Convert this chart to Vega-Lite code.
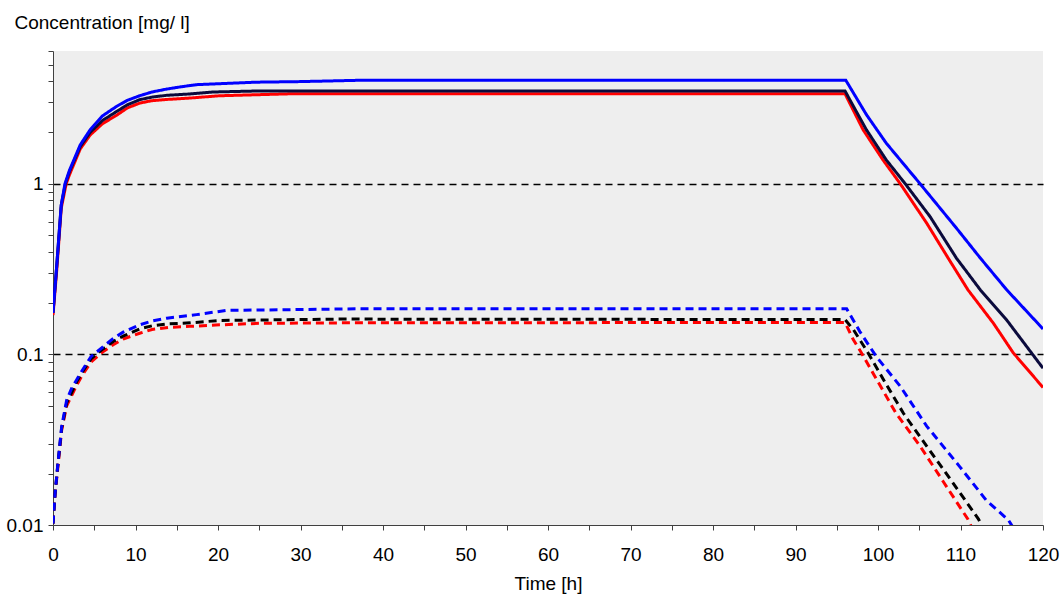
{
  "$schema": "https://vega.github.io/schema/vega-lite/v6.json",
  "autosize": {"type": "none"},
  "padding": {"left": 53, "top": 51, "right": 20, "bottom": 70},
  "width": 990,
  "height": 474,
  "background": "white",
  "config": {
    "view": {"fill": "#eeeeee", "stroke": null},
    "font": "Liberation Sans",
    "axis": {"labelFont": "Liberation Sans", "titleFont": "Liberation Sans", "labelColor": "#000000", "titleColor": "#000000", "titleFontWeight": "normal", "labelFontSize": 19, "titleFontSize": 19, "domainColor": "#404040", "tickColor": "#404040", "domainWidth": 1, "tickWidth": 1}
  },
  "data": {"values": [
    {"t": 0, "c": 0.17, "s": "R"}, {"t": 0.45, "c": 0.31, "s": "R"}, {"t": 1.0, "c": 0.72, "s": "R"}, {"t": 1.6, "c": 1.0, "s": "R"}, {"t": 2, "c": 1.13, "s": "R"}, {"t": 3.3, "c": 1.6, "s": "R"}, {"t": 4.5, "c": 1.93, "s": "R"}, {"t": 6, "c": 2.25, "s": "R"}, {"t": 7.7, "c": 2.52, "s": "R"}, {"t": 9, "c": 2.78, "s": "R"}, {"t": 10.5, "c": 2.97, "s": "R"}, {"t": 12, "c": 3.07, "s": "R"}, {"t": 13.8, "c": 3.12, "s": "R"}, {"t": 16.6, "c": 3.18, "s": "R"}, {"t": 20.2, "c": 3.28, "s": "R"}, {"t": 29, "c": 3.37, "s": "R"}, {"t": 96, "c": 3.37, "s": "R"}, {"t": 98.2, "c": 2.07, "s": "R"}, {"t": 100.6, "c": 1.38, "s": "R"}, {"t": 102.7, "c": 1.0, "s": "R"}, {"t": 105.9, "c": 0.588, "s": "R"}, {"t": 108.5, "c": 0.367, "s": "R"}, {"t": 110.9, "c": 0.239, "s": "R"}, {"t": 114, "c": 0.152, "s": "R"}, {"t": 116.4, "c": 0.102, "s": "R"}, {"t": 120, "c": 0.064, "s": "R"},

    {"t": 0, "c": 0.175, "s": "K"}, {"t": 0.45, "c": 0.33, "s": "K"}, {"t": 1.0, "c": 0.75, "s": "K"}, {"t": 1.5, "c": 1.0, "s": "K"}, {"t": 2, "c": 1.18, "s": "K"}, {"t": 3.3, "c": 1.65, "s": "K"}, {"t": 4.5, "c": 2.0, "s": "K"}, {"t": 6, "c": 2.35, "s": "K"}, {"t": 7.7, "c": 2.65, "s": "K"}, {"t": 9, "c": 2.9, "s": "K"}, {"t": 10.5, "c": 3.11, "s": "K"}, {"t": 12, "c": 3.22, "s": "K"}, {"t": 13.8, "c": 3.3, "s": "K"}, {"t": 16.6, "c": 3.36, "s": "K"}, {"t": 19.4, "c": 3.45, "s": "K"}, {"t": 25, "c": 3.5, "s": "K"}, {"t": 96, "c": 3.5, "s": "K"}, {"t": 98.6, "c": 2.07, "s": "K"}, {"t": 101, "c": 1.38, "s": "K"}, {"t": 103.3, "c": 1.0, "s": "K"}, {"t": 106.3, "c": 0.643, "s": "K"}, {"t": 109.5, "c": 0.367, "s": "K"}, {"t": 112.4, "c": 0.239, "s": "K"}, {"t": 115.6, "c": 0.159, "s": "K"}, {"t": 120, "c": 0.083, "s": "K"},

    {"t": 0, "c": 0.175, "s": "B"}, {"t": 0.45, "c": 0.33, "s": "B"}, {"t": 1.0, "c": 0.75, "s": "B"}, {"t": 1.45, "c": 1.0, "s": "B"}, {"t": 2, "c": 1.2, "s": "B"}, {"t": 3.3, "c": 1.69, "s": "B"}, {"t": 4.5, "c": 2.07, "s": "B"}, {"t": 6, "c": 2.5, "s": "B"}, {"t": 7.7, "c": 2.84, "s": "B"}, {"t": 9, "c": 3.08, "s": "B"}, {"t": 10.5, "c": 3.28, "s": "B"}, {"t": 12, "c": 3.45, "s": "B"}, {"t": 13.8, "c": 3.59, "s": "B"}, {"t": 15.5, "c": 3.7, "s": "B"}, {"t": 17.4, "c": 3.81, "s": "B"}, {"t": 20.2, "c": 3.86, "s": "B"}, {"t": 24.7, "c": 3.94, "s": "B"}, {"t": 30, "c": 3.97, "s": "B"}, {"t": 37, "c": 4.04, "s": "B"}, {"t": 96.1, "c": 4.04, "s": "B"}, {"t": 98.6, "c": 2.54, "s": "B"}, {"t": 101, "c": 1.73, "s": "B"}, {"t": 105.1, "c": 1.0, "s": "B"}, {"t": 109.5, "c": 0.55, "s": "B"}, {"t": 112.4, "c": 0.367, "s": "B"}, {"t": 115.6, "c": 0.239, "s": "B"}, {"t": 120, "c": 0.141, "s": "B"},

    {"t": 0, "c": 0.0102, "s": "Rd"}, {"t": 0.25, "c": 0.015, "s": "Rd"}, {"t": 0.64, "c": 0.023, "s": "Rd"}, {"t": 1.05, "c": 0.036, "s": "Rd"}, {"t": 1.66, "c": 0.05, "s": "Rd"}, {"t": 2.87, "c": 0.066, "s": "Rd"}, {"t": 3.5, "c": 0.075, "s": "Rd"}, {"t": 4.6, "c": 0.09, "s": "Rd"}, {"t": 6.1, "c": 0.104, "s": "Rd"}, {"t": 7.3, "c": 0.114, "s": "Rd"}, {"t": 8.5, "c": 0.123, "s": "Rd"}, {"t": 10.5, "c": 0.133, "s": "Rd"}, {"t": 12, "c": 0.14, "s": "Rd"}, {"t": 14, "c": 0.144, "s": "Rd"}, {"t": 16.6, "c": 0.146, "s": "Rd"}, {"t": 20.2, "c": 0.149, "s": "Rd"}, {"t": 25, "c": 0.152, "s": "Rd"}, {"t": 34.8, "c": 0.153, "s": "Rd"}, {"t": 96, "c": 0.154, "s": "Rd"}, {"t": 97, "c": 0.122, "s": "Rd"}, {"t": 98, "c": 0.102, "s": "Rd"}, {"t": 99.4, "c": 0.0776, "s": "Rd"}, {"t": 102.2, "c": 0.045, "s": "Rd"}, {"t": 105.1, "c": 0.029, "s": "Rd"}, {"t": 107.9, "c": 0.018, "s": "Rd"}, {"t": 110.9, "c": 0.0108, "s": "Rd"}, {"t": 111.3, "c": 0.0098, "s": "Rd"},

    {"t": 0, "c": 0.0102, "s": "Kd"}, {"t": 0.25, "c": 0.0153, "s": "Kd"}, {"t": 0.64, "c": 0.024, "s": "Kd"}, {"t": 1.05, "c": 0.037, "s": "Kd"}, {"t": 1.66, "c": 0.052, "s": "Kd"}, {"t": 2.87, "c": 0.069, "s": "Kd"}, {"t": 3.5, "c": 0.078, "s": "Kd"}, {"t": 4.6, "c": 0.094, "s": "Kd"}, {"t": 6.1, "c": 0.108, "s": "Kd"}, {"t": 7.3, "c": 0.119, "s": "Kd"}, {"t": 8.5, "c": 0.128, "s": "Kd"}, {"t": 10.5, "c": 0.141, "s": "Kd"}, {"t": 12, "c": 0.147, "s": "Kd"}, {"t": 14, "c": 0.151, "s": "Kd"}, {"t": 16.6, "c": 0.153, "s": "Kd"}, {"t": 20.2, "c": 0.158, "s": "Kd"}, {"t": 34.8, "c": 0.161, "s": "Kd"}, {"t": 96, "c": 0.16, "s": "Kd"}, {"t": 97, "c": 0.14, "s": "Kd"}, {"t": 98.8, "c": 0.102, "s": "Kd"}, {"t": 100.6, "c": 0.072, "s": "Kd"}, {"t": 103.1, "c": 0.045, "s": "Kd"}, {"t": 105.9, "c": 0.029, "s": "Kd"}, {"t": 109.1, "c": 0.0176, "s": "Kd"}, {"t": 112.2, "c": 0.0108, "s": "Kd"}, {"t": 112.6, "c": 0.0098, "s": "Kd"},

    {"t": 0, "c": 0.0102, "s": "Bd"}, {"t": 0.25, "c": 0.0153, "s": "Bd"}, {"t": 0.64, "c": 0.024, "s": "Bd"}, {"t": 1.05, "c": 0.0377, "s": "Bd"}, {"t": 1.66, "c": 0.054, "s": "Bd"}, {"t": 2.3, "c": 0.064, "s": "Bd"}, {"t": 2.87, "c": 0.071, "s": "Bd"}, {"t": 3.5, "c": 0.08, "s": "Bd"}, {"t": 4.6, "c": 0.097, "s": "Bd"}, {"t": 6.1, "c": 0.111, "s": "Bd"}, {"t": 7.3, "c": 0.124, "s": "Bd"}, {"t": 8.5, "c": 0.135, "s": "Bd"}, {"t": 10.5, "c": 0.149, "s": "Bd"}, {"t": 12, "c": 0.157, "s": "Bd"}, {"t": 13.8, "c": 0.163, "s": "Bd"}, {"t": 17.4, "c": 0.171, "s": "Bd"}, {"t": 21, "c": 0.181, "s": "Bd"}, {"t": 37, "c": 0.185, "s": "Bd"}, {"t": 96.2, "c": 0.185, "s": "Bd"}, {"t": 97.8, "c": 0.136, "s": "Bd"}, {"t": 99.8, "c": 0.097, "s": "Bd"}, {"t": 102.7, "c": 0.065, "s": "Bd"}, {"t": 105.9, "c": 0.038, "s": "Bd"}, {"t": 109.9, "c": 0.022, "s": "Bd"}, {"t": 113.1, "c": 0.014, "s": "Bd"}, {"t": 115.8, "c": 0.0107, "s": "Bd"}, {"t": 116.3, "c": 0.0098, "s": "Bd"}
  ]},
  "mark": {"type": "line", "strokeWidth": 3, "clip": true, "interpolate": "linear"},
  "encoding": {
    "x": {
      "field": "t", "type": "quantitative",
      "scale": {"domain": [0, 120], "nice": false, "zero": false},
      "axis": {
        "title": "Time [h]",
        "values": [0,5,10,15,20,25,30,35,40,45,50,55,60,65,70,75,80,85,90,95,100,105,110,115,120],
        "labelExpr": "datum.value % 10 == 0 ? datum.label : ''",
        "grid": false, "tickSize": 5, "labelPadding": 15, "titlePadding": 10, "labelFlush": false
      }
    },
    "y": {
      "field": "c", "type": "quantitative",
      "scale": {"type": "log", "domain": [0.01, 6], "nice": false, "zero": false},
      "axis": {
        "title": "Concentration [mg/ l]",
        "titleAngle": 0, "titleAlign": "left", "titleBaseline": "alphabetic",
        "titleX": -39, "titleY": -23,
        "values": [0.01,0.02,0.03,0.04,0.05,0.06,0.07,0.08,0.09,0.1,0.2,0.3,0.4,0.5,0.6,0.7,0.8,0.9,1,2,3,4,5,6],
        "labelExpr": "datum.value == 1 ? '1' : (datum.value == 0.1 ? '0.1' : (datum.value == 0.01 ? '0.01' : ''))",
        "tickSize": 5, "labelPadding": 5, "labelFlush": false,
        "grid": true, "gridColor": "#000000", "gridDash": [7, 5], "gridWidth": 1.5,
        "gridOpacity": {"condition": {"test": "datum.value == 1 || datum.value == 0.1", "value": 1}, "value": 0}
      }
    },
    "color": {
      "field": "s", "type": "nominal", "legend": null,
      "scale": {"domain": ["R", "K", "B", "Rd", "Kd", "Bd"], "range": ["#ff0000", "#0a0a3c", "#0000ff", "#ff0000", "#000000", "#0000ff"]}
    },
    "strokeDash": {
      "field": "s", "type": "nominal", "legend": null,
      "scale": {"domain": ["R", "K", "B", "Rd", "Kd", "Bd"], "range": [[1, 0], [1, 0], [1, 0], [8, 5], [8, 5], [8, 5]]}
    }
  }
}
